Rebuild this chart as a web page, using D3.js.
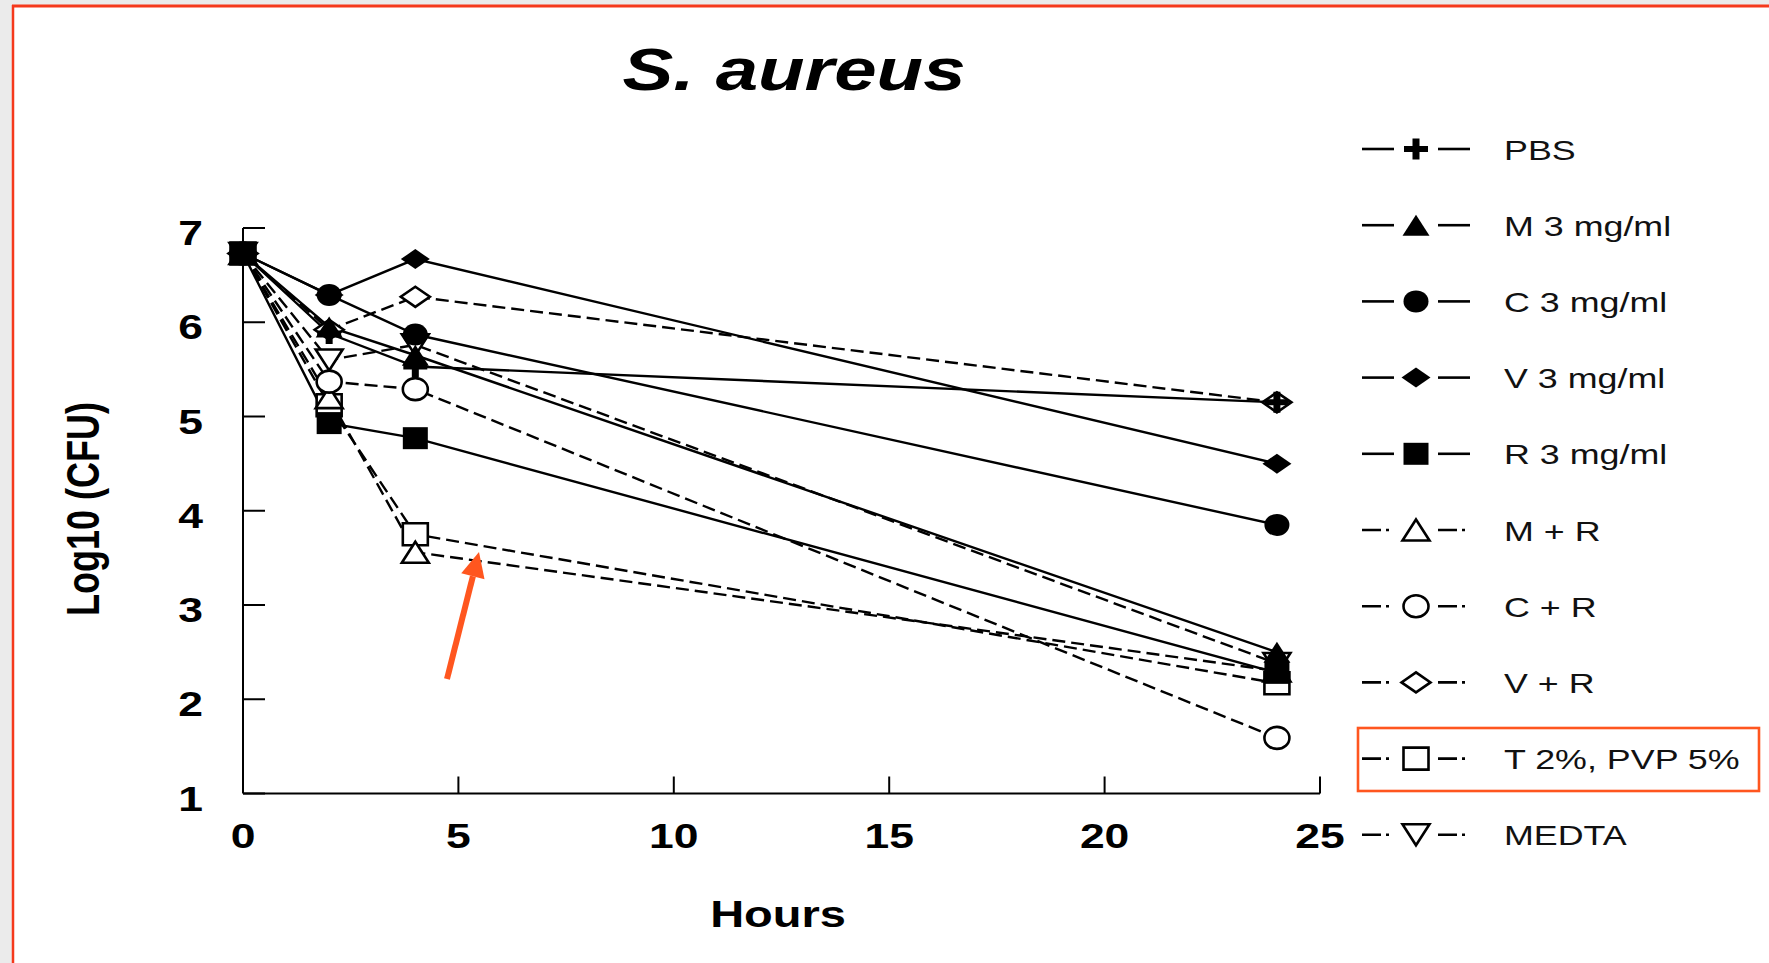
<!DOCTYPE html>
<html><head><meta charset="utf-8">
<script src="https://cdn.jsdelivr.net/npm/d3@7"></script>
<style>body{margin:0;background:#fff;} svg{display:block}</style>
</head><body>
<svg id="c" width="1769" height="963"></svg>
<script>
// ---- data ----
const hours = [0, 2, 4, 24];
const seriesLabels = ["PBS", "M 3 mg/ml", "C 3 mg/ml", "V 3 mg/ml", "R 3 mg/ml",
                      "M + R", "C + R", "V + R", "T 2%, PVP 5%", "MEDTA"];
const pbs   = [6.73, 5.88, 5.53, 5.15];
const m3    = [6.73, 5.95, 5.65, 2.50];
const c3    = [6.73, 6.29, 5.87, 3.85];
const v3    = [6.73, 6.29, 6.67, 4.50];
const r3    = [6.73, 4.93, 4.77, 2.28];
const mR    = [6.73, 5.20, 3.56, 2.30];
const cR    = [6.73, 5.37, 5.29, 1.59];
const vR    = [6.73, 5.92, 6.27, 5.15];
const tPvp  = [6.73, 5.12, 3.75, 2.17];
const medta = [6.73, 5.60, 5.76, 2.38];
const xTicks = [0, 5, 10, 15, 20, 25];
const yTicks = [1, 2, 3, 4, 5, 6, 7];
const titleText = "S. aureus";
const xTitle = "Hours";
const yTitle = "Log10 (CFU)";

// ---- styles ----
const seriesValues = [pbs, m3, c3, v3, r3, mR, cR, vR, tPvp, medta];
const shapes = ["cross","triangle","circle","diamond","square","triangle","circle","diamond","square","triangleDown"];
const filledFlags = [true,true,true,true,true,false,false,false,false,false];
const series = seriesLabels.map((name, i) => ({
  name, shape: shapes[i], filled: filledFlags[i], dashed: !filledFlags[i],
  pts: hours.map((h, j) => ({h, v: seriesValues[i][j]}))
}));

const svg = d3.select("#c");
const W = 1769, H = 963;
const STRETCH = 1.27;

// frame
svg.append("rect").attr("x",0).attr("y",0).attr("width",W).attr("height",H).attr("fill","#ebebeb");
svg.append("rect").attr("x",12).attr("y",5).attr("width",W-12).attr("height",H-5).attr("fill","#fff");
svg.append("line").attr("x1",13).attr("x2",13).attr("y1",5).attr("y2",H).attr("stroke","#f5391c").attr("stroke-width",2.5);
svg.append("line").attr("x1",12).attr("x2",W).attr("y1",6).attr("y2",6).attr("stroke","#f5391c").attr("stroke-width",3);

const x = d3.scaleLinear().domain([0, 25]).range([243, 1320]);
const y = d3.scaleLinear().domain([1, 7]).range([793.5, 228]);

const fontB = "'Liberation Sans', Arial, sans-serif";

// title
svg.append("text").attr("transform", `translate(794,90) scale(${STRETCH},1)`)
  .attr("text-anchor","middle").attr("font-family",fontB).attr("font-weight","bold")
  .attr("font-style","italic").attr("font-size",60).text(titleText);

// axes
const ax = svg.append("g").attr("stroke","#000").attr("stroke-width",2).attr("fill","none");
ax.append("line").attr("x1",x(0)).attr("x2",x(0)).attr("y1",y(7)).attr("y2",y(1));
ax.append("line").attr("x1",x(0)).attr("x2",x(25)).attr("y1",y(1)).attr("y2",y(1));
yTicks.forEach(t => ax.append("line").attr("x1",x(0)).attr("x2",x(0)+22).attr("y1",y(t)).attr("y2",y(t)));
xTicks.filter(t => t > 0).forEach(t => ax.append("line").attr("x1",x(t)).attr("x2",x(t)).attr("y1",y(1)).attr("y2",y(1)-17));

// tick labels
yTicks.forEach(t => svg.append("text").attr("transform",`translate(203,${y(t)+17}) scale(${STRETCH},1)`)
  .attr("text-anchor","end").attr("font-family",fontB).attr("font-weight","bold").attr("font-size",35).text(t));
xTicks.forEach(t => svg.append("text").attr("transform",`translate(${x(t)},848) scale(${STRETCH},1)`)
  .attr("text-anchor","middle").attr("font-family",fontB).attr("font-weight","bold").attr("font-size",35).text(t));

// axis titles
svg.append("text").attr("transform",`translate(778,927) scale(${STRETCH},1)`)
  .attr("text-anchor","middle").attr("font-family",fontB).attr("font-weight","bold").attr("font-size",37).text(xTitle);
svg.append("text").attr("transform",`translate(99,509) rotate(-90) scale(1,${STRETCH})`)
  .attr("text-anchor","middle").attr("font-family",fontB).attr("font-weight","bold").attr("font-size",36).text(yTitle);

// marker paths
function markerPath(shape) {
  switch (shape) {
    case "square": { const w=12.5,h=11; return `M${-w},${-h}H${w}V${h}H${-w}Z`; }
    case "circle": { const w=12.5,h=11; return `M${-w},0A${w},${h} 0 1 0 ${w},0A${w},${h} 0 1 0 ${-w},0Z`; }
    case "diamond": { const w=14.5,h=10; return `M0,${-h}L${w},0L0,${h}L${-w},0Z`; }
    case "triangle": { const w=13.5,h=10.5; return `M0,${-h}L${w},${h}L${-w},${h}Z`; }
    case "triangleDown": { const w=13.5,h=10.5; return `M0,${h}L${w},${-h}L${-w},${-h}Z`; }
    case "cross": { const w=12,h=10.5,t=3,u=3.5; return `M${-w},${-t}H${w}V${t}H${-w}Z M${-u},${-h}H${u}V${h}H${-u}Z`; }
  }
}
function drawMarker(g, s, cx, cy) {
  g.append("path").attr("d", markerPath(s.shape)).attr("transform",`translate(${cx},${cy})`)
    .attr("fill", s.filled ? "#000" : "#fff")
    .attr("stroke", s.filled ? "none" : "#000").attr("stroke-width", 2.6);
}

// lines
const line = d3.line().x(d => x(d.h)).y(d => y(d.v));
const gl = svg.append("g");
series.forEach(s => {
  gl.append("path").attr("d", line(s.pts)).attr("fill","none").attr("stroke","#000")
    .attr("stroke-width", 2.4).attr("stroke-dasharray", s.dashed ? "13,6" : null);
});
// markers: open first, filled after, R last
const gm = svg.append("g");
const order = [9,8,5,6,7,0,3,1,2,4];
order.forEach(i => { const s = series[i]; s.pts.forEach(p => drawMarker(gm, s, x(p.h), y(p.v))); });

// legend
const lg = svg.append("g");
series.forEach((s, i) => {
  const cy = 149 + 76.2 * i;
  const dash = s.dashed ? "19,5,3,40" : null;
  lg.append("line").attr("x1",1362).attr("x2",1394).attr("y1",cy).attr("y2",cy)
    .attr("stroke","#000").attr("stroke-width",2.6).attr("stroke-dasharray",dash);
  lg.append("line").attr("x1",1438).attr("x2",1470).attr("y1",cy).attr("y2",cy)
    .attr("stroke","#000").attr("stroke-width",2.6).attr("stroke-dasharray",dash);
  drawMarker(lg, s, 1416, cy);
  lg.append("text").attr("transform",`translate(1504,${cy+10.5}) scale(1.28,1)`)
    .attr("font-family",fontB).attr("font-size",28).attr("fill","#111").text(s.name);
});

// annotations
const red = "#ff561f";
svg.append("rect").attr("x",1358).attr("y",728).attr("width",401).attr("height",63)
  .attr("fill","none").attr("stroke",red).attr("stroke-width",2.6);
const tail = [447, 679], tip = [479, 552];
const ang = Math.atan2(tip[1]-tail[1], tip[0]-tail[0]);
const hl = 25, hw = 12;
const base = [tip[0] - hl*Math.cos(ang), tip[1] - hl*Math.sin(ang)];
svg.append("line").attr("x1",tail[0]).attr("y1",tail[1]).attr("x2",base[0]).attr("y2",base[1])
  .attr("stroke",red).attr("stroke-width",6);
svg.append("path").attr("d",`M${tip[0]},${tip[1]}L${base[0]+hw*Math.sin(ang)},${base[1]-hw*Math.cos(ang)}L${base[0]-hw*Math.sin(ang)},${base[1]+hw*Math.cos(ang)}Z`)
  .attr("fill",red);
</script>
</body></html>
